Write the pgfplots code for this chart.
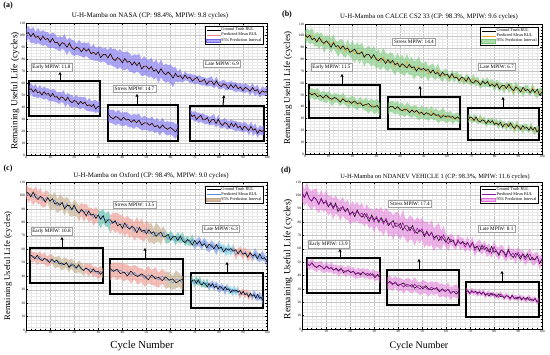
\documentclass[border=0pt]{standalone}
\usepackage{fontspec}
\setmainfont{Liberation Serif}
\usepackage{pgfplots}
\usepackage{pgfplotstable}
\pgfplotsset{compat=1.18}
\usepgfplotslibrary{fillbetween}
\usetikzlibrary{arrows.meta}

\definecolor{aband}{RGB}{115,105,240}
\definecolor{amean}{RGB}{240,130,140}
\definecolor{bband}{RGB}{120,200,120}
\definecolor{bmean}{RGB}{230,160,40}
\definecolor{cmean}{RGB}{90,140,220}
\definecolor{csal}{RGB}{240,150,140}
\definecolor{ctan}{RGB}{195,170,135}
\definecolor{cteal}{RGB}{80,185,170}
\definecolor{cblue}{RGB}{120,150,230}
\definecolor{ccyan}{RGB}{110,200,225}
\definecolor{cleg}{RGB}{200,168,138}
\definecolor{dband}{RGB}{225,110,215}
\definecolor{dmean}{RGB}{150,20,160}

\pgfplotstableread{
x gt mu lo hi
0 101.0 100.2 93.4 105.0
1 102.0 102.4 97.0 107.5
2 98.7 98.9 93.2 104.6
3 101.4 100.5 93.6 106.9
4 98.0 97.3 92.3 102.4
5 98.9 99.2 93.1 105.9
6 95.6 97.1 92.3 102.5
7 99.0 97.3 90.8 104.4
8 96.2 97.7 92.1 102.4
9 97.2 96.3 89.9 102.4
10 93.9 93.8 88.9 100.3
11 97.3 96.6 89.5 102.1
12 93.4 94.1 88.6 100.9
13 94.0 92.9 87.7 98.1
14 90.8 92.8 86.4 99.0
15 93.7 93.0 88.5 97.9
16 92.7 93.4 87.2 100.6
17 89.8 89.9 83.1 95.7
18 93.3 92.3 87.1 97.6
19 89.4 89.3 83.5 96.0
20 87.7 89.6 82.6 95.5
21 90.0 88.3 83.5 92.9
22 88.8 89.0 82.9 95.9
23 85.9 87.6 82.2 93.2
24 89.0 87.6 80.9 93.9
25 86.5 88.0 82.9 93.2
26 88.4 87.0 80.6 93.9
27 84.4 84.1 79.4 89.8
28 85.6 86.0 78.9 92.5
29 83.7 84.2 78.5 89.2
30 85.9 83.9 78.6 90.1
31 81.1 83.4 77.1 90.4
32 83.7 83.1 78.1 88.5
33 83.9 83.7 77.1 89.5
34 80.9 80.6 75.0 87.4
35 84.3 83.7 75.3 90.1
36 80.4 80.2 74.1 88.1
37 78.6 80.7 73.2 88.8
38 81.3 79.4 71.4 86.2
39 79.7 79.8 73.2 88.4
40 76.8 78.5 71.2 85.6
41 80.5 79.1 70.4 85.7
42 77.3 78.5 72.1 86.4
43 78.1 77.0 69.3 84.6
44 74.9 76.1 69.1 82.4
45 77.6 75.8 67.7 84.0
46 74.4 76.2 69.8 83.2
47 77.1 75.9 68.3 84.3
48 71.7 72.4 65.6 79.3
49 74.0 74.6 66.3 82.4
50 74.1 73.6 66.5 80.1
51 71.6 70.7 64.4 78.8
52 73.6 73.7 65.8 81.2
53 69.8 70.2 62.7 76.9
54 71.2 71.3 64.8 79.8
55 68.0 68.3 59.9 75.5
56 71.9 71.7 64.8 79.7
57 68.6 68.5 61.8 74.8
58 67.0 68.2 60.2 76.0
59 69.1 67.5 61.3 74.9
60 67.1 67.3 59.6 75.5
61 64.0 66.4 56.5 72.9
62 68.1 66.7 61.4 73.3
63 65.1 65.3 60.5 69.7
64 66.2 66.7 61.3 72.0
65 63.5 63.2 60.2 66.5
66 66.6 66.1 62.3 69.8
67 63.8 64.7 61.8 67.6
68 65.0 63.8 60.0 67.9
69 61.6 63.7 60.4 67.1
70 63.5 63.0 58.9 66.8
71 64.8 62.9 59.8 65.9
72 61.2 62.2 58.8 66.4
73 61.5 61.8 57.9 65.0
74 63.1 61.1 58.2 64.7
75 58.9 60.8 57.1 63.6
76 61.5 60.6 57.4 64.5
77 61.6 61.9 57.7 65.7
78 58.5 58.6 55.4 61.7
79 61.8 61.0 57.5 65.3
80 58.4 57.8 54.8 61.1
81 57.0 58.5 55.0 61.5
82 59.3 58.9 55.9 62.7
83 58.3 57.4 53.6 61.0
84 55.3 57.5 54.6 60.4
85 58.9 57.8 54.1 61.8
86 56.0 57.0 53.7 60.4
87 58.6 56.5 52.4 60.7
88 55.1 56.1 53.2 59.2
89 56.6 56.2 52.6 59.9
90 53.6 55.3 52.1 58.5
91 56.5 55.8 51.8 59.9
92 55.0 55.7 52.9 58.5
93 53.1 53.2 49.4 56.9
94 56.2 56.2 52.8 60.1
95 53.3 53.1 48.9 56.3
96 54.5 54.3 51.2 58.7
97 50.9 50.9 47.7 54.2
98 53.5 54.0 50.1 57.0
99 52.3 52.1 49.4 56.0
100 53.5 53.3 49.6 56.9
}\tabA

\pgfplotstableread{
x gt mu lo hi
0 101.1 97.8 91.2 104.4
1 98.6 101.2 95.9 106.6
2 100.5 98.4 92.8 104.0
3 96.7 100.5 94.1 106.9
4 98.0 96.0 91.1 100.9
5 94.8 97.3 91.2 103.4
6 98.6 95.1 88.8 101.4
7 95.3 97.5 92.3 102.7
8 93.6 92.2 85.5 98.9
9 95.7 94.9 89.4 100.4
10 93.6 95.0 89.9 100.1
11 90.3 91.6 85.4 97.8
12 94.1 95.3 89.4 101.2
13 90.9 90.9 86.1 95.7
14 91.7 88.8 82.4 95.2
15 88.8 91.7 86.3 97.1
16 91.6 89.8 83.3 96.4
17 88.6 86.5 81.2 91.8
18 89.5 90.6 84.6 96.6
19 85.9 87.1 82.1 92.1
20 87.5 88.0 80.3 95.7
21 88.6 84.5 77.2 91.8
22 84.8 87.6 81.0 94.2
23 84.9 84.1 76.1 92.1
24 86.3 87.1 80.1 94.1
25 81.9 81.3 73.7 88.9
26 84.3 83.8 77.5 90.1
27 84.2 84.0 76.5 91.5
28 80.9 81.3 74.1 88.5
29 84.0 83.6 75.8 91.4
30 80.4 79.5 72.3 86.7
31 78.8 81.1 73.3 88.9
32 80.9 77.7 71.0 84.4
33 79.7 82.1 74.1 90.1
34 76.5 78.6 71.7 85.5
35 79.9 76.9 69.5 84.3
36 76.8 79.4 73.0 85.8
37 79.2 77.3 69.4 85.2
38 75.5 73.7 66.7 80.7
39 76.8 78.1 70.5 85.7
40 73.6 74.7 68.1 81.3
41 76.4 75.9 67.7 84.1
42 74.8 73.0 66.2 79.8
43 72.8 78.5 69.1 85.0
44 75.8 73.3 67.0 79.6
45 72.8 74.6 66.9 82.3
46 73.9 70.8 63.3 78.3
47 70.2 72.9 66.3 79.5
48 72.7 74.3 66.1 82.5
49 71.4 70.4 63.5 77.3
50 72.5 70.7 64.9 76.5
51 70.6 72.4 65.8 79.0
52 71.6 67.8 61.7 73.9
53 68.5 70.6 65.8 75.4
54 71.2 70.7 64.7 76.7
55 68.0 67.3 62.4 72.2
56 68.9 70.9 65.2 76.6
57 65.8 67.2 63.1 71.3
58 69.2 65.5 60.9 70.1
59 66.6 68.1 64.3 71.9
60 67.6 66.8 62.0 71.6
61 64.5 63.5 60.7 66.3
62 68.0 67.4 63.5 71.3
63 64.3 64.2 60.2 68.2
64 65.0 66.9 63.9 69.9
65 62.0 63.0 58.8 67.2
66 65.0 64.6 61.4 67.8
67 64.2 61.3 58.5 64.1
68 61.4 64.3 60.6 68.0
69 65.1 62.7 59.3 66.1
70 61.3 60.5 57.8 63.2
71 59.8 63.9 59.9 67.9
72 62.2 60.7 57.5 63.9
73 61.2 62.0 58.4 65.6
74 58.4 58.0 55.2 60.8
75 61.7 60.9 57.1 64.7
76 59.3 59.5 56.5 62.6
77 61.4 60.9 56.9 64.9
78 57.5 58.8 56.2 61.4
79 58.9 60.1 56.6 63.6
80 57.1 56.7 53.0 60.4
81 59.6 59.9 56.8 63.0
82 55.0 56.5 52.6 60.4
83 57.8 57.8 54.9 60.7
84 58.2 54.5 51.0 58.0
85 55.4 58.5 55.8 61.3
86 59.0 55.8 51.7 59.9
87 55.3 57.1 53.8 60.4
88 53.7 51.5 48.5 56.8
89 56.6 57.9 54.1 61.7
90 55.2 54.0 50.6 57.4
91 52.5 55.0 52.4 57.6
92 56.5 51.9 48.0 55.8
93 53.6 55.4 52.3 58.5
94 54.7 54.7 51.1 58.3
95 51.8 51.9 49.0 54.8
96 54.8 56.1 52.2 60.0
97 51.9 52.1 48.9 55.3
98 54.9 50.6 46.9 54.3
99 49.8 53.4 50.6 56.2
100 52.4 52.4 48.9 55.9
}\tabB

\pgfplotstableread{
x gt mu lo hi
0 102.7 103.4 98.4 108.4
1 101.8 100.3 94.6 106.0
2 98.9 101.2 96.6 105.8
3 102.5 98.4 92.5 104.3
4 98.6 101.3 95.8 106.8
5 97.0 98.4 93.6 103.2
6 99.2 99.4 93.2 105.6
7 98.1 95.9 90.7 101.1
8 95.1 97.6 91.8 103.4
9 98.3 98.8 94.3 103.3
10 95.7 95.0 89.3 100.7
11 97.6 95.1 89.7 100.5
12 93.5 96.5 90.5 102.5
13 94.7 92.1 86.7 97.5
14 92.7 94.5 88.5 100.5
15 94.9 94.4 89.5 99.3
16 90.0 91.1 84.9 97.3
17 92.5 94.2 89.1 99.3
18 92.6 90.6 85.0 96.2
19 89.5 88.9 84.3 93.5
20 92.8 91.0 84.9 97.1
21 88.8 89.7 84.5 94.9
22 86.9 86.5 80.7 92.3
23 89.5 89.8 85.0 94.6
24 87.8 86.7 80.3 93.1
25 84.8 89.0 84.0 94.0
26 88.5 85.3 79.8 90.8
27 85.3 86.5 82.0 91.0
28 86.1 83.3 77.4 89.2
29 82.9 85.9 80.2 91.6
30 85.6 84.2 79.4 89.0
31 82.4 81.9 75.5 88.3
32 85.0 84.8 79.7 89.9
33 79.6 81.6 76.9 86.3
34 81.8 82.5 76.7 88.3
35 81.9 78.6 71.7 85.5
36 79.3 80.9 75.0 86.9
37 81.3 79.4 72.0 86.8
38 77.4 80.3 73.7 86.9
39 78.8 78.2 70.6 85.8
40 75.5 79.0 72.8 85.2
41 79.6 75.9 69.0 82.9
42 76.4 78.6 72.2 85.0
43 75.0 75.4 67.9 82.9
44 77.2 76.3 70.5 82.1
45 75.4 73.2 66.2 80.2
46 72.2 76.6 69.3 83.9
47 76.3 74.0 67.7 80.3
48 73.2 75.0 67.1 82.9
49 74.3 71.9 65.4 78.4
50 71.5 75.4 69.4 81.4
51 74.6 71.7 64.4 79.0
52 71.8 72.5 65.7 79.3
53 73.0 69.5 63.6 75.4
54 69.6 72.6 65.0 80.2
55 71.5 71.8 66.0 77.6
56 72.8 69.1 63.3 74.9
57 69.2 72.8 68.7 76.9
58 69.5 69.1 64.3 73.9
59 71.1 67.6 64.3 70.9
60 66.9 70.0 66.2 73.8
61 69.5 69.0 66.6 71.4
62 69.6 66.2 62.9 69.5
63 66.5 69.5 66.0 73.0
64 69.8 67.1 64.2 70.0
65 66.4 69.2 65.5 72.9
66 64.9 65.3 62.6 68.0
67 67.2 66.7 63.4 70.0
68 66.1 64.9 62.4 67.5
69 63.1 67.3 63.4 71.2
70 66.6 62.6 59.5 65.7
71 63.7 65.3 62.5 68.1
72 66.2 65.6 62.0 69.2
73 62.7 62.7 59.5 65.9
74 64.1 66.2 63.8 68.6
75 61.1 62.4 58.7 66.1
76 63.9 60.7 57.8 63.6
77 62.4 63.5 60.1 66.9
78 60.4 62.0 59.3 64.7
79 63.5 59.2 55.5 63.0
80 60.5 63.1 60.1 66.1
81 61.7 60.1 56.6 63.6
82 58.0 61.1 58.5 63.7
83 60.6 58.1 54.8 61.4
84 59.3 61.0 57.2 64.8
85 60.5 58.0 55.2 60.9
86 58.6 60.9 57.9 64.0
87 59.7 55.7 52.0 59.4
88 56.6 58.2 55.7 60.7
89 59.4 58.5 55.1 61.9
90 56.2 56.2 52.6 59.8
91 57.2 58.4 55.6 61.2
92 54.1 54.8 50.9 58.7
93 57.6 56.4 53.4 59.4
94 55.0 53.4 50.8 56.0
95 56.1 57.5 54.1 61.0
96 53.0 54.4 51.2 57.7
97 56.6 53.0 50.5 55.5
98 52.9 55.3 51.7 58.9
99 53.7 53.5 50.6 56.4
100 50.7 50.4 46.7 54.2
}\tabC

\pgfplotstableread{
x gt mu lo hi
0 102.2 102.2 95.0 109.4
1 98.5 98.3 92.2 104.4
2 102.6 102.1 94.4 109.8
3 97.8 97.8 91.0 104.6
4 95.6 95.9 88.5 103.3
5 98.8 98.5 92.2 104.8
6 96.8 97.0 89.1 104.9
7 93.3 93.2 86.6 99.8
8 97.8 97.2 90.1 104.3
9 94.1 93.6 87.6 99.6
10 95.1 96.4 89.0 103.8
11 91.3 92.0 84.7 99.3
12 94.6 93.5 87.2 99.9
13 90.9 89.8 81.8 97.8
14 94.2 93.0 86.3 99.7
15 87.8 91.0 84.8 97.2
16 90.6 88.4 81.1 95.8
17 90.8 92.0 84.9 99.1
18 87.8 88.2 82.1 94.4
19 90.3 89.5 81.9 97.1
20 85.8 84.9 78.1 91.7
21 87.7 88.0 80.2 95.8
22 84.1 86.4 80.0 92.8
23 89.0 87.8 80.7 95.0
24 85.3 85.5 78.9 92.1
25 83.6 86.8 79.1 94.5
26 86.3 83.1 77.1 89.1
27 84.1 86.4 79.2 93.6
28 80.4 82.5 75.0 90.0
29 85.3 83.7 77.2 90.2
30 81.7 80.0 71.9 88.1
31 83.0 84.2 77.5 90.9
32 79.7 81.0 73.1 88.9
33 83.4 82.3 73.1 91.5
34 80.0 78.6 69.8 87.4
35 81.4 82.9 75.1 90.7
36 77.3 78.4 68.9 87.9
37 79.6 79.4 70.9 87.9
38 81.1 75.7 66.6 84.8
39 76.8 79.4 71.4 87.4
40 77.1 78.5 69.2 87.8
41 79.0 75.2 66.9 83.5
42 74.0 79.6 70.0 89.2
43 77.1 75.2 67.5 82.9
44 77.2 73.3 64.4 82.2
45 73.4 76.2 67.1 85.3
46 77.4 75.0 66.6 83.4
47 73.3 71.6 62.2 81.0
48 71.5 75.5 67.4 83.6
49 74.2 72.6 63.7 81.5
50 72.9 75.1 67.2 83.0
51 69.1 70.3 60.6 80.0
52 73.2 71.9 63.3 80.5
53 69.6 69.6 61.4 77.8
54 72.5 72.4 63.1 81.7
55 68.2 66.6 57.9 75.3
56 69.7 69.7 62.0 77.4
57 66.0 70.0 60.5 79.5
58 69.3 66.4 59.2 73.6
59 67.3 70.5 63.7 77.3
60 64.8 65.8 60.9 70.7
61 68.6 63.8 58.2 69.4
62 65.1 67.3 63.4 71.2
63 66.6 65.5 61.1 69.9
64 62.3 62.3 58.8 65.8
65 65.5 67.0 62.8 71.2
66 64.0 63.5 58.8 68.2
67 65.5 64.8 61.0 68.6
68 63.3 61.3 57.3 65.3
69 64.7 64.8 60.3 69.4
70 61.1 61.3 57.9 64.7
71 64.5 64.9 60.6 69.2
72 60.7 58.7 54.2 63.2
73 62.0 61.8 58.1 65.5
74 58.4 62.2 57.4 67.0
75 62.7 59.5 55.6 63.4
76 59.6 62.3 58.8 65.8
77 61.0 58.0 53.7 62.4
78 57.4 60.0 55.9 64.2
79 61.8 56.5 53.1 59.9
80 57.4 61.5 57.0 66.0
81 58.5 57.9 54.1 61.7
82 55.0 56.4 51.7 61.0
83 58.9 59.3 55.6 63.0
84 58.1 57.2 53.0 61.5
85 55.0 53.6 50.1 57.1
86 59.5 58.7 54.2 63.1
87 55.2 55.2 51.1 59.3
88 53.5 56.7 53.1 60.3
89 56.6 53.6 48.9 58.3
90 55.5 57.4 53.5 61.3
91 52.3 54.2 49.8 58.6
92 56.3 55.7 52.3 59.1
93 53.6 51.8 47.5 56.1
94 56.2 54.2 50.2 58.2
95 51.7 55.9 51.4 60.4
96 53.5 51.7 47.7 55.8
97 51.5 52.2 47.7 56.7
98 54.5 54.2 50.5 57.9
99 49.0 49.3 44.7 54.0
100 52.3 52.6 48.8 56.4
}\tabD

% #1 table, #2 fill colour, #3 opacity, #4 mean colour, #5 path prefix
\newcommand{\drawband}[5]{%
  \addplot[name path=#5u, draw=none, forget plot] table[x=x,y=hi]{#1};
  \addplot[name path=#5l, draw=none, forget plot] table[x=x,y=lo]{#1};
  \addplot[fill=#2, fill opacity=#3, draw=none, forget plot] fill between[of=#5u and #5l];
  \addplot[#4, line width=0.45pt, forget plot] table[x=x,y=mu]{#1};
  \addplot[black, line width=0.55pt, forget plot] table[x=x,y=gt]{#1};
}
% same, mean drawn on top of the ground truth
\newcommand{\drawbandtop}[5]{%
  \addplot[name path=#5u, draw=none, forget plot] table[x=x,y=hi]{#1};
  \addplot[name path=#5l, draw=none, forget plot] table[x=x,y=lo]{#1};
  \addplot[fill=#2, fill opacity=#3, draw=none, forget plot] fill between[of=#5u and #5l];
  \addplot[black, line width=0.5pt, forget plot] table[x=x,y=gt]{#1};
  \addplot[#4, line width=0.55pt, forget plot] table[x=x,y=mu]{#1};
}
\newcommand{\cseg}[4]{%
  \addplot[fill=#1, fill opacity=0.6, draw=none, forget plot] fill between[of=#2u and #2l, soft clip={domain=#3:#4}];
}
\newcommand{\drawbandC}[1]{%
  \addplot[name path=#1u, draw=none, forget plot] table[x=x,y=hi]{\tabC};
  \addplot[name path=#1l, draw=none, forget plot] table[x=x,y=lo]{\tabC};
  \cseg{csal}{#1}{0}{9}
  \cseg{ctan}{#1}{9}{22}
  \cseg{csal}{#1}{22}{30}
  \cseg{cteal}{#1}{30}{35}
  \cseg{csal}{#1}{35}{51}
  \cseg{ctan}{#1}{51}{58}
  \cseg{cteal}{#1}{58}{70}
  \cseg{cblue}{#1}{70}{80}
  \cseg{ccyan}{#1}{80}{86}
  \cseg{csal}{#1}{86}{94}
  \cseg{cblue}{#1}{94}{100}
  \addplot[cmean, line width=0.45pt, forget plot] table[x=x,y=mu]{\tabC};
  \addplot[black, line width=0.55pt, forget plot] table[x=x,y=gt]{\tabC};
}

\pgfplotsset{
  mainax/.style={scale only axis, anchor=south west,
    xmin=0, xmax=100, ymin=0, ymax=110,
    xtick={0,10,...,100}, ytick={0,10,...,110},
    minor x tick num=4, minor y tick num=3,
    grid=both,
    major grid style={gray!45, line width=0.25pt},
    minor grid style={gray!18, line width=0.2pt},
    axis line style={line width=0.8pt},
    tick style={black, line width=0.3pt},
    major tick length=2pt, minor tick length=1pt, tick align=inside,
    ticklabel style={font=\fontsize{3.5}{4}\selectfont, inner sep=0.8pt},
    /pgf/number format/assume math mode=true,
    legend cell align=left,
    legend style={at={(0.985,0.975)}, anchor=north east, draw=black,
      line width=0.35pt, fill=white, font=\fontsize{4.2}{4.6}\selectfont,
      inner sep=1pt, nodes={inner sep=0.6pt}, row sep=-0.6pt},
  },
  insetax/.style={scale only axis, anchor=south west, xtick=\empty, ytick=\empty,
    axis line style={line width=1.1pt}, axis background/.style={fill=white}},
  lgline/.style={legend image code/.code={\draw[#1, line width=0.7pt] (0pt,0pt) -- (14pt,0pt);}},
  lgarea/.style={legend image code/.code={\fill[#1] (0pt,-1.6pt) rectangle (14pt,1.6pt);}},
}
\tikzset{
  ann/.style={draw=gray!75, line width=0.3pt, fill=white, font=\fontsize{5.2}{6}\selectfont, inner sep=1.6pt},
  arr/.style={-{Stealth[length=3.2pt,width=3.2pt]}, line width=1pt, black},
  ttl/.style={font=\fontsize{7}{8}\selectfont},
  plab/.style={font=\bfseries\fontsize{8}{9}\selectfont},
}

\begin{document}
\begin{tikzpicture}

% ---------------- (a) ----------------
\begin{axis}[mainax, at={(26pt,200pt)}, width=241pt, height=132pt]
\drawband{\tabA}{aband}{0.58}{amean}{a}
\addlegendimage{lgline=black}\addlegendentry{Ground Truth RUL}
\addlegendimage{lgline=amean}\addlegendentry{Predicted Mean RUL}
\addlegendimage{lgarea={aband,fill opacity=0.58}}\addlegendentry{95\% Prediction Interval}
\end{axis}
\begin{axis}[insetax, at={(29pt,239pt)}, width=71pt, height=35pt, xmin=0, xmax=33, ymin=74, ymax=110]
\drawband{\tabA}{aband}{0.58}{amean}{aE}
\end{axis}
\begin{axis}[insetax, at={(108pt,214pt)}, width=70pt, height=36pt, xmin=35, xmax=62, ymin=54, ymax=94]
\drawband{\tabA}{aband}{0.58}{amean}{aS}
\end{axis}
\begin{axis}[insetax, at={(190pt,214pt)}, width=74pt, height=35pt, xmin=66, xmax=100, ymin=45, ymax=72]
\drawband{\tabA}{aband}{0.58}{amean}{aL}
\end{axis}
\node[ann] at (51.5pt,288pt) {Early MPIW: 11.8};
\node[ann] at (134.5pt,266pt) {Stress MPIW: 14.7};
\node[ann] at (222pt,291pt) {Late MPIW: 6.9};
\draw[arr] (60pt,275pt) -- (60pt,283pt);
\draw[arr] (137pt,251pt) -- (137pt,261pt);
\draw[arr] (223pt,250pt) -- (224pt,260pt);
\node[ttl] at (150pt,339pt) {U-H-Mamba on NASA (CP: 98.4\%, MPIW: 9.8 cycles)};
\node[plab] at (8pt,349pt) {(a)};
\node[rotate=90, font=\fontsize{9.3}{10}\selectfont] at (15pt,264pt) {Remaining Useful Life (cycles)};

% ---------------- (b) ----------------
\begin{axis}[mainax, at={(305pt,201pt)}, width=237pt, height=130pt]
\drawband{\tabB}{bband}{0.6}{bmean}{b}
\addlegendimage{lgline=black}\addlegendentry{Ground Truth RUL}
\addlegendimage{lgline=bmean}\addlegendentry{Predicted Mean RUL}
\addlegendimage{lgarea={bband,fill opacity=0.6}}\addlegendentry{95\% Prediction Interval}
\end{axis}
\begin{axis}[insetax, at={(309pt,237pt)}, width=71pt, height=33pt, xmin=0, xmax=25, ymin=72, ymax=110]
\drawband{\tabB}{bband}{0.6}{bmean}{bE}
\end{axis}
\begin{axis}[insetax, at={(388pt,226pt)}, width=72pt, height=32pt, xmin=25, xmax=55, ymin=56, ymax=96]
\drawband{\tabB}{bband}{0.6}{bmean}{bS}
\end{axis}
\begin{axis}[insetax, at={(468pt,215pt)}, width=71pt, height=32pt, xmin=65, xmax=100, ymin=42, ymax=74]
\drawband{\tabB}{bband}{0.6}{bmean}{bL}
\end{axis}
\node[ann] at (331.5pt,288pt) {Early MPIW: 11.5};
\node[ann] at (414pt,313.5pt) {Stress MPIW: 14.4};
\node[ann] at (497pt,288pt) {Late MPIW: 6.7};
\draw[arr] (342pt,271pt) -- (342pt,281pt);
\draw[arr] (420pt,259pt) -- (420pt,269pt);
\draw[arr] (503pt,248pt) -- (503pt,258pt);
\node[ttl, font=\fontsize{6.8}{8}\selectfont] at (429pt,338pt) {U-H-Mamba on CALCE CS2 33 (CP: 98.3\%, MPIW: 9.6 cycles)};
\node[plab] at (287pt,340pt) {(b)};
\node[rotate=90, font=\fontsize{9}{10}\selectfont] at (288pt,267pt) {Remaining Useful Life (cycles)};

% ---------------- (c) ----------------
\begin{axis}[mainax, at={(26pt,25pt)}, width=241pt, height=148pt]
\drawbandC{c}
\addlegendimage{lgline=black}\addlegendentry{Ground Truth RUL}
\addlegendimage{lgline=cmean}\addlegendentry{Predicted Mean RUL}
\addlegendimage{lgarea={cleg,fill opacity=0.8}}\addlegendentry{95\% Prediction Interval}
\end{axis}
\begin{axis}[insetax, at={(30pt,72pt)}, width=73pt, height=35pt, xmin=0, xmax=30, ymin=74, ymax=110]
\drawbandC{cE}
\end{axis}
\begin{axis}[insetax, at={(110pt,61pt)}, width=73pt, height=35pt, xmin=35, xmax=56, ymin=60, ymax=90]
\drawbandC{cS}
\end{axis}
\begin{axis}[insetax, at={(191pt,47pt)}, width=72pt, height=35pt, xmin=60, xmax=100, ymin=44, ymax=76]
\drawbandC{cL}
\end{axis}
\node[ann] at (51.5pt,124pt) {Early MPIW: 10.8};
\node[ann] at (134.5pt,150.5pt) {Stress MPIW: 13.5};
\node[ann] at (221pt,126pt) {Late MPIW: 6.3};
\draw[arr] (62pt,108pt) -- (62pt,118pt);
\draw[arr] (145pt,97pt) -- (145pt,107pt);
\draw[arr] (227pt,83pt) -- (227pt,93pt);
\node[ttl, font=\fontsize{6.9}{8}\selectfont] at (151pt,179pt) {U-H-Mamba on Oxford (CP: 98.4\%, MPIW: 9.0 cycles)};
\node[plab] at (8pt,186pt) {(c)};
\node[rotate=90, font=\fontsize{8.6}{10}\selectfont] at (8pt,89pt) {Remaining Useful Life (cycles)};
\node[font=\fontsize{10.8}{12}\selectfont] at (142pt,9pt) {Cycle Number};

% ---------------- (d) ----------------
\begin{axis}[mainax, at={(302pt,26pt)}, width=240pt, height=147pt]
\drawbandtop{\tabD}{dband}{0.5}{dmean}{d}
\addlegendimage{lgline=black}\addlegendentry{Ground Truth RUL}
\addlegendimage{lgline=dmean}\addlegendentry{Predicted Mean RUL}
\addlegendimage{lgarea={dband,fill opacity=0.5}}\addlegendentry{95\% Prediction Interval}
\end{axis}
\begin{axis}[insetax, at={(307pt,62pt)}, width=73pt, height=35pt, xmin=0, xmax=30, ymin=57, ymax=110]
\drawbandtop{\tabD}{dband}{0.5}{dmean}{dE}
\end{axis}
\begin{axis}[insetax, at={(387pt,50pt)}, width=72pt, height=35pt, xmin=32, xmax=58, ymin=51, ymax=99]
\drawbandtop{\tabD}{dband}{0.5}{dmean}{dS}
\end{axis}
\begin{axis}[insetax, at={(466pt,38pt)}, width=73pt, height=35pt, xmin=62, xmax=100, ymin=26, ymax=80]
\drawbandtop{\tabD}{dband}{0.5}{dmean}{dL}
\end{axis}
\node[ann] at (328.5pt,111pt) {Early MPIW: 13.9};
\node[ann] at (410pt,151pt) {Stress MPIW: 17.4};
\node[ann] at (496.5pt,126pt) {Late MPIW: 8.1};
\draw[arr] (340pt,98pt) -- (340pt,106pt);
\draw[arr] (419pt,86pt) -- (419pt,96pt);
\draw[arr] (502pt,74pt) -- (502pt,84pt);
\node[ttl, font=\fontsize{6.4}{8}\selectfont] at (435pt,178pt) {U-H-Mamba on NDANEV VEHICLE 1 (CP: 98.3\%, MPIW: 11.6 cycles)};
\node[plab] at (286pt,184pt) {(d)};
\node[rotate=90, font=\fontsize{9.5}{10}\selectfont] at (288pt,96pt) {Remaining Useful Life (cycles)};
\node[font=\fontsize{10}{12}\selectfont] at (419pt,9pt) {Cycle Number};

\pgfresetboundingbox
\useasboundingbox (0pt,0pt) rectangle (550pt,355pt);
\end{tikzpicture}
\end{document}
